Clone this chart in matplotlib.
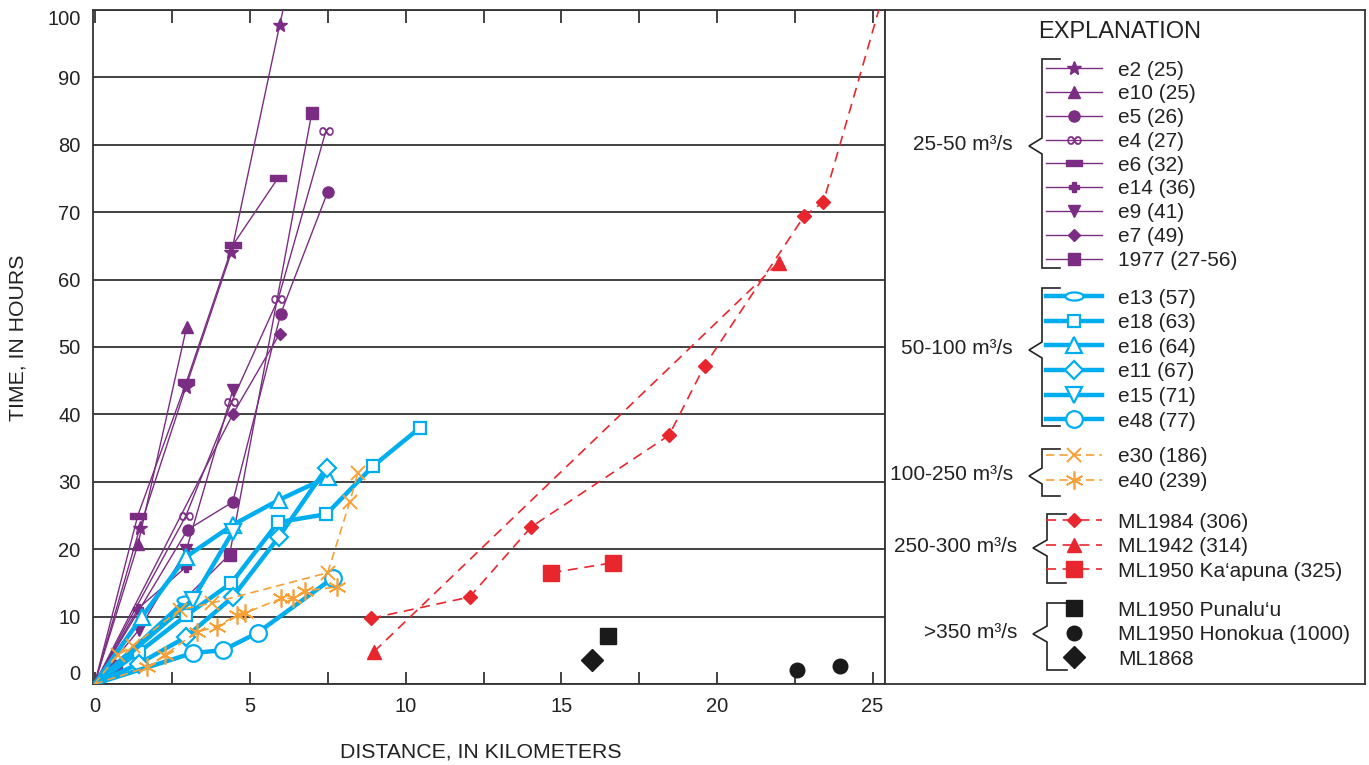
import matplotlib
matplotlib.use('Agg')
import matplotlib.pyplot as plt
from matplotlib.legend import Legend
from matplotlib.path import Path
import numpy as np

plt.rcParams['font.family'] = ['Liberation Sans', 'DejaVu Sans']

# ---- data (distance km, time h) ----
# 25-50 m3/s
e2_x = [0, 1.45, 2.93, 4.40, 5.95, 6.20]
e2_y = [0, 23.1, 44.0, 64.1, 97.8, 103.0]
e10_x = [0, 1.40, 2.96]
e10_y = [0, 20.8, 53.0]
e5_x = [0, 2.99, 4.44, 5.98, 7.49]
e5_y = [0, 22.9, 27.0, 54.9, 73.0]
e4_x = [0, 2.93, 4.40, 5.90, 7.43]
e4_y = [0, 24.9, 41.8, 57.1, 82.0]
e6_x = [0, 1.39, 2.95, 4.44, 5.90]
e6_y = [0, 25.0, 44.8, 65.1, 75.1]
e14_x = [0, 1.40, 2.95]
e14_y = [0, 11.2, 17.4]
e9_x = [0, 1.42, 2.95, 4.44]
e9_y = [0, 8.0, 19.9, 43.6]
e7_x = [0, 4.44, 5.95]
e7_y = [0, 40.0, 52.0]
y1977_x = [0, 0.70, 4.34, 6.98]
y1977_y = [0, 2.6, 19.2, 84.7]

# 50-100 m3/s
e13_x = [0, 2.95]
e13_y = [0, 12.5]
e18_x = [0, 1.42, 2.95, 4.40, 5.90, 7.45, 8.94, 10.45]
e18_y = [0, 4.7, 10.2, 15.0, 24.0, 25.2, 32.3, 38.0]
e16_x = [0, 1.51, 2.95, 4.44, 5.92, 7.49]
e16_y = [0, 9.9, 18.9, 23.6, 27.3, 30.7]
e11_x = [0, 1.42, 2.95, 4.44, 5.92, 7.46]
e11_y = [0, 3.0, 7.0, 12.9, 21.8, 32.1]
e15_x = [0, 3.15, 4.44]
e15_y = [0, 12.5, 22.6]
e48_x = [0, 3.15, 4.12, 5.24, 7.65]
e48_y = [0, 4.6, 5.0, 7.6, 15.7]

# 100-250 m3/s
e30_x = [0, 0.74, 1.22, 2.73, 3.76, 7.49, 8.20, 8.46]
e30_y = [0, 4.3, 5.6, 11.0, 12.0, 16.5, 27.0, 31.3]
e40_x = [0, 1.70, 2.25, 3.28, 3.92, 4.57, 4.82, 6.00, 6.37, 6.75, 7.78]
e40_y = [0, 2.5, 4.3, 7.7, 8.5, 10.2, 10.5, 12.7, 12.7, 13.8, 14.4]

# 250-300 m3/s
ml1984_x = [8.89, 12.05, 14.03, 18.46, 19.60, 22.80, 23.42, 25.5]
ml1984_y = [9.75, 12.9, 23.3, 36.9, 47.2, 69.4, 71.5, 104.8]
ml1942_x = [8.98, 21.98]
ml1942_y = [4.8, 62.5]
kaapuna_x = [14.68, 16.66]
kaapuna_y = [16.5, 18.0]

# >350 m3/s
punaluu_x = [16.5]
punaluu_y = [7.1]
honokua_x = [22.57, 23.97]
honokua_y = [2.1, 2.6]
ml1868_x = [16.0]
ml1868_y = [3.5]

x_ticks = [0, 5, 10, 15, 20, 25]
y_ticks = [0, 10, 20, 30, 40, 50, 60, 70, 80, 90, 100]

PURPLE = '#7b2d83'
BLUE = '#00aeef'
ORANGE = '#f6a037'
RED = '#e8262d'
BLACK = '#1a1a1a'
INK = '#222222'

circ = Path.unit_circle()
ellipse = Path(circ.vertices * np.array([1.0, 0.45]), circ.codes)
bar = [(-1, -0.38), (1, -0.38), (1, 0.38), (-1, 0.38), (-1, -0.38)]

fig = plt.figure(figsize=(13.69, 7.65), dpi=100)
ax = fig.add_axes([93 / 1369, 81 / 765, 792 / 1369, 674 / 765])


def skip_origin(x, y):
    if x[0] == 0 and y[0] == 0:
        return list(range(1, len(x)))
    return None


def series(x, y, label, color, marker, ms, lw, ls='-', filled=True, mew=1.0):
    return ax.plot(x, y, color=color, lw=lw, ls=ls, marker=marker, ms=ms,
                   mfc=color if filled else 'white', mec=color, mew=mew,
                   markevery=skip_origin(x, y), label=label, zorder=3)[0]


# purple, thin solid
h_purple = [
    series(e2_x, e2_y, 'e2 (25)', PURPLE, '*', 10, 1.0),
    series(e10_x, e10_y, 'e10 (25)', PURPLE, '^', 9, 1.0),
    series(e5_x, e5_y, 'e5 (26)', PURPLE, 'o', 8, 1.0),
    series(e4_x, e4_y, 'e4 (27)', PURPLE, r'$\infty$', 10, 1.0, mew=0.3),
    series(e6_x, e6_y, 'e6 (32)', PURPLE, bar, 12, 1.0),
    series(e14_x, e14_y, 'e14 (36)', PURPLE, 'P', 7, 1.0),
    series(e9_x, e9_y, 'e9 (41)', PURPLE, 'v', 9, 1.0),
    series(e7_x, e7_y, 'e7 (49)', PURPLE, 'D', 6, 1.0),
    series(y1977_x, y1977_y, '1977 (27-56)', PURPLE, 's', 8, 1.0),
]

# blue, thick solid, open markers
h_blue = [
    series(e13_x, e13_y, 'e13 (57)', BLUE, ellipse, 13, 3.2, filled=False, mew=1.6),
    series(e18_x, e18_y, 'e18 (63)', BLUE, 's', 9, 3.2, filled=False, mew=1.6),
    series(e16_x, e16_y, 'e16 (64)', BLUE, '^', 12, 3.2, filled=False, mew=1.6),
    series(e11_x, e11_y, 'e11 (67)', BLUE, 'D', 9, 3.2, filled=False, mew=1.6),
    series(e15_x, e15_y, 'e15 (71)', BLUE, 'v', 12, 3.2, filled=False, mew=1.6),
    series(e48_x, e48_y, 'e48 (77)', BLUE, 'o', 12, 3.2, filled=False, mew=1.6),
]

# orange, dashed
h_orange = [
    series(e30_x, e30_y, 'e30 (186)', ORANGE, 'x', 10, 1.2, ls=(0, (5, 3)), mew=1.4),
    series(e40_x, e40_y, 'e40 (239)', ORANGE, (6, 2, 0), 13, 1.2, ls=(0, (5, 3)), mew=1.2),
]

# red, dashed
h_red = [
    series(ml1984_x, ml1984_y, 'ML1984 (306)', RED, 'D', 7, 1.2, ls=(0, (6, 4))),
    series(ml1942_x, ml1942_y, 'ML1942 (314)', RED, '^', 10, 1.2, ls=(0, (6, 4))),
    series(kaapuna_x, kaapuna_y, 'ML1950 Ka\u2018apuna (325)', RED, 's', 11, 1.2, ls=(0, (6, 4))),
]

# black, markers only
h_black = [
    series(punaluu_x, punaluu_y, 'ML1950 Punalu\u2018u', BLACK, 's', 11, 0, ls='none'),
    series(honokua_x, honokua_y, 'ML1950 Honokua (1000)', BLACK, 'o', 10.5, 0, ls='none'),
    series(ml1868_x, ml1868_y, 'ML1868', BLACK, 'D', 11, 0, ls='none'),
]

ax.set_xlim(-0.05, 25.4)
ax.set_ylim(0, 100)
ax.set_xticks(x_ticks)
ax.set_xticks([2.5, 7.5, 12.5, 17.5, 22.5], minor=True)
ax.set_yticks(y_ticks)
ax.tick_params(axis='x', which='both', direction='in', length=9, width=1.2,
               top=True, labelsize=14.5, pad=9, colors=INK)
ax.tick_params(axis='y', length=0, labelsize=14.5, pad=9, colors=INK)
ylabels = ax.get_yticklabels()
ylabels[0].set_va('bottom')
ylabels[-1].set_va('top')
ax.grid(axis='y', color='#333333', lw=1.3, zorder=1)
for s in ax.spines.values():
    s.set_linewidth(1.3)
    s.set_color('#333333')

fig.text(18 / 1369, 1 - 338 / 765, 'TIME, IN HOURS', rotation=90,
         ha='center', va='center', fontsize=15.3, color=INK)
fig.text(481 / 1369, 1 - 752 / 765, 'DISTANCE, IN KILOMETERS',
         ha='center', va='center', fontsize=15.3, color=INK)

# ---- explanation panel, in pixel-like coordinates ----
lx = fig.add_axes([885 / 1369, 81 / 765, 480 / 1369, 674 / 765])
lx.set_xlim(885, 1365)
lx.set_ylim(684, 10)
lx.set_xticks([])
lx.set_yticks([])
for s in lx.spines.values():
    s.set_linewidth(1.3)
    s.set_color('#333333')

lx.text(1120, 32, 'EXPLANATION', ha='center', va='center', fontsize=17, color=INK)

# handles, legend top, group name, brace tip y, brace x, tick end, brace top, brace bottom, tip x, row spacing
groups = [
    (h_purple, 60.5, '25-50 m\u00b3/s', 146, 1042, 1060, 59, 268, 1029, 0.23),
    (h_blue, 288.5, '50-100 m\u00b3/s', 350, 1042, 1060, 288, 426, 1029, 0.27),
    (h_orange, 447.5, '100-250 m\u00b3/s', 476, 1042, 1060, 449, 496, 1029, 0.27),
    (h_red, 512.5, '250-300 m\u00b3/s', 548, 1047, 1066, 514, 583, 1033, 0.27),
    (h_black, 600.5, '>350 m\u00b3/s', 634, 1047, 1067, 603, 670, 1033, 0.27),
]

for handles, top, gname, gy, bx, tx, y0, y1, px, sp in groups:
    leg = Legend(lx, handles, [h.get_label() for h in handles], loc='upper left',
                 bbox_to_anchor=(1046, top), bbox_transform=lx.transData,
                 frameon=False, fontsize=15, handlelength=2.7, handletextpad=0.75,
                 labelspacing=sp, borderpad=0, borderaxespad=0, numpoints=1)
    for t in leg.get_texts():
        t.set_color(INK)
    lx.add_artist(leg)
    # brace
    lx.plot([tx, bx, bx, px, bx, bx, tx], [y0, y0, gy - 8, gy, gy + 8, y1, y1],
            color=INK, lw=1.2, solid_joinstyle='miter')
    lx.text(px - 16, gy - 2, gname, ha='right', va='center', fontsize=15, color=INK)

fig.savefig('out.png', dpi=100)
